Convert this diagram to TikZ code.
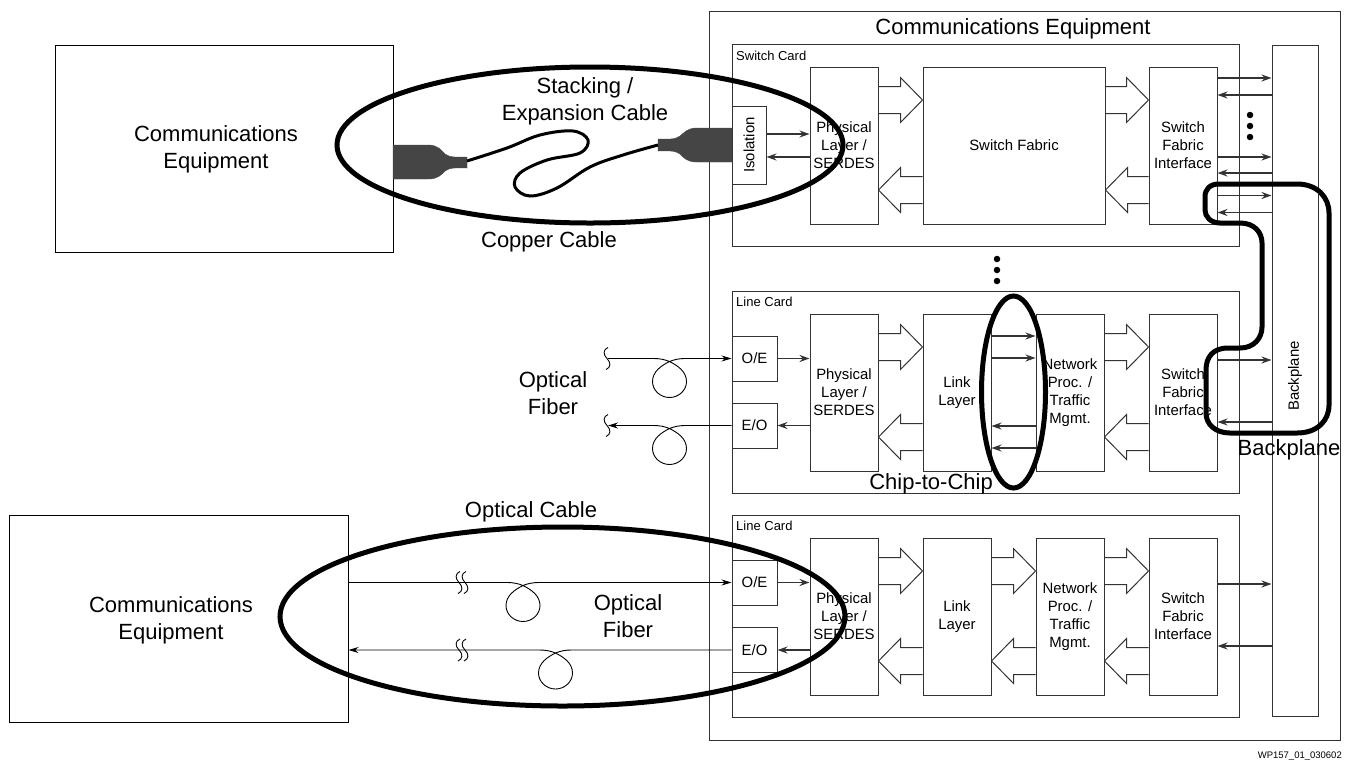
\documentclass[tikz,border=0pt]{standalone}
\usepackage{fontspec}
\setmainfont{Liberation Sans}
\usetikzlibrary{arrows.meta,calc,shapes.geometric}
\definecolor{ink}{HTML}{333333}
\definecolor{plug}{HTML}{454545}
\tikzset{
  boxbase/.style={draw=ink,line width=1pt,inner sep=0pt,align=center,font=\fontsize{14.9}{18}\selectfont},
  blockbox/.style={boxbase,minimum width=68pt,minimum height=157pt},
  smallbox/.style={boxbase,minimum width=45pt,minimum height=45pt},
  cardbox/.style={draw=ink,line width=1pt,inner sep=0pt,minimum width=507pt,minimum height=202pt},
  bigbox/.style={draw=black,line width=1pt,inner sep=0pt,minimum height=207pt},
  biglabel/.style={inner sep=0pt,align=center,font=\fontsize{22}{27}\selectfont},
  cardlabel/.style={inner sep=0pt,anchor=west,font=\fontsize{13}{15}\selectfont},
  sig/.style={draw=ink,line width=1.7pt,-{Stealth[length=10pt,width=7pt]}},
  sigback/.style={draw=ink,line width=1.7pt,{Stealth[length=10pt,width=7pt]}-},
  fiber/.style={draw=black,line width=0.9pt},
  hollow/.style={draw=ink,line width=1pt},
  ring/.style={draw=black,line width=5pt,ellipse,inner sep=0pt},
  dotmark/.style={circle,fill=black,inner sep=0pt,minimum size=6.5pt},
}
% forward / backward hollow arrows between two blocks
\newcommand\rarrow[3]{\draw[hollow] (#1.east |- 0,#3-13.5) -- ($(#2.west |- 0,#3-13.5)+(-22,0)$) -- ($(#2.west |- 0,#3-22.5)+(-22,0)$) -- (#2.west |- 0,#3) -- ($(#2.west |- 0,#3+22.5)+(-22,0)$) -- ($(#2.west |- 0,#3+13.5)+(-22,0)$) -- (#1.east |- 0,#3+13.5);}
\newcommand\larrow[3]{\draw[hollow] (#2.west |- 0,#3-13.5) -- ($(#1.east |- 0,#3-13.5)+(22,0)$) -- ($(#1.east |- 0,#3-22.5)+(22,0)$) -- (#1.east |- 0,#3) -- ($(#1.east |- 0,#3+22.5)+(22,0)$) -- ($(#1.east |- 0,#3+13.5)+(22,0)$) -- (#2.west |- 0,#3+13.5);}
\newcommand\sigr[3]{\draw[sig] (#1.east |- 0,#3) -- (#2.west |- 0,#3);}
\newcommand\sigl[3]{\draw[sigback] (#1.east |- 0,#3) -- (#2.west |- 0,#3);}
% fibre with a loop: style, left end, loop centre x, line y, right end
\newcommand\fiberloop[5]{\draw[fiber,#1] (#2) -- (#3-17,#4) .. controls (#3-9,#4) and (#3-5,#4+1) .. (#3,#4+3) .. controls (#3+8,#4+7) and (#3+17,#4+13) .. (#3+17,#4+23) .. controls (#3+17,#4+32) and (#3+9,#4+39) .. (#3,#4+39) .. controls (#3-9,#4+39) and (#3-17,#4+32) .. (#3-17,#4+23) .. controls (#3-17,#4+13) and (#3-8,#4+7) .. (#3,#4+3) .. controls (#3+5,#4+1) and (#3+9,#4) .. (#3+17,#4) -- (#5);}
\newcommand\breakmark[2]{\draw[fiber] (#1+1,#2-11) .. controls (#1-4,#2-9) and (#1-4,#2-4) .. (#1,#2) .. controls (#1+4,#2+4) and (#1+4,#2+9) .. (#1-1,#2+11);}
\begin{document}
\begin{tikzpicture}[x=1pt,y=-1pt]
\useasboundingbox (0,0) rectangle (1348,761);
% enclosures
\node[bigbox,minimum width=338pt] (eqA) at (224,148.5) {};
\node[bigbox,minimum width=339pt] (eqB) at (178.5,619) {};
\node[biglabel] (eqAlab) at (216,149.5) {Communications\\Equipment};
\node[biglabel] (eqBlab) at (171,620.5) {Communications\\Equipment};
\node[draw=ink,line width=1pt,inner sep=0pt,minimum width=631pt,minimum height=729pt] (outer) at (1024.5,375.5) {};
\node[biglabel] (outerlab) at (1013,28.5) {Communications Equipment};
\node[cardbox] (cardS) at (985.5,145.5) {};
\node[cardbox] (cardL) at (985.5,392) {};
\node[cardbox] (cardM) at (985.5,616) {};
\node[cardlabel] (labS) at (736,56) {Switch Card};
\node[cardlabel] (labL) at (736,302) {Line Card};
\node[cardlabel] (labM) at (736,526) {Line Card};
\node[boxbase,minimum width=46pt,minimum height=671pt] (bp) at (1295,380.5) {};
\node[inner sep=0pt,rotate=90,font=\fontsize{14.9}{18}\selectfont] (bplab) at (1295,376) {Backplane};
% switch card
\node[boxbase,minimum width=34pt,minimum height=78pt] (iso) at (749,145) {};
\node[inner sep=0pt,rotate=90,font=\fontsize{14.9}{18}\selectfont] (isolab) at (749,145) {Isolation};
\node[blockbox] (physS) at (844,145.5) {Physical\\Layer /\\SERDES};
\node[boxbase,minimum width=182pt,minimum height=157pt] (fab) at (1014,145.5) {Switch Fabric};
\node[blockbox] (sfiS) at (1183,145.5) {Switch\\Fabric\\Interface};
% line card 1
\node[smallbox] (oeL) at (754.5,358.5) {O/E};
\node[smallbox] (eoL) at (754.5,425.5) {E/O};
\node[blockbox] (physL) at (844,392.5) {Physical\\Layer /\\SERDES};
\node[blockbox] (linkL) at (957,392.5) {Link\\Layer};
\node[blockbox] (netL) at (1070,392.5) {Network\\Proc. /\\Traffic\\Mgmt.};
\node[blockbox] (sfiL) at (1183,392.5) {Switch\\Fabric\\Interface};
% line card 2
\node[smallbox] (oeM) at (754.5,582.5) {O/E};
\node[smallbox] (eoM) at (754.5,650) {E/O};
\node[blockbox] (physM) at (844,616.5) {Physical\\Layer /\\SERDES};
\node[blockbox] (linkM) at (957,616.5) {Link\\Layer};
\node[blockbox] (netM) at (1070,616.5) {Network\\Proc. /\\Traffic\\Mgmt.};
\node[blockbox] (sfiM) at (1183,616.5) {Switch\\Fabric\\Interface};
% hollow arrows
\rarrow{physS}{fab}{100}\larrow{physS}{fab}{190}
\rarrow{fab}{sfiS}{100}\larrow{fab}{sfiS}{190}
\rarrow{physL}{linkL}{347}\larrow{physL}{linkL}{437}
\rarrow{netL}{sfiL}{347}\larrow{netL}{sfiL}{437}
\rarrow{physM}{linkM}{571}\larrow{physM}{linkM}{661}
\rarrow{linkM}{netM}{571}\larrow{linkM}{netM}{661}
\rarrow{netM}{sfiM}{571}\larrow{netM}{sfiM}{661}
% signal arrows
\sigr{iso}{physS}{134}\sigl{iso}{physS}{157}
\sigr{sfiS}{bp}{78}\sigr{sfiS}{bp}{157}\sigr{sfiS}{bp}{195.5}
\sigl{sfiS}{bp}{95}\sigl{sfiS}{bp}{173}\sigl{sfiS}{bp}{212.5}
\node[dotmark] (d1) at (1250,115) {};
\node[dotmark] (d2) at (1250,126) {};
\node[dotmark] (d3) at (1250,137) {};
\node[dotmark] (d4) at (997,259) {};
\node[dotmark] (d5) at (997,270) {};
\node[dotmark] (d6) at (997,281) {};
\sigr{oeL}{physL}{358.5}\sigl{eoL}{physL}{425.5}
\sigr{linkL}{netL}{336}\sigr{linkL}{netL}{358}
\sigl{linkL}{netL}{426}\sigl{linkL}{netL}{448}
\sigr{sfiL}{bp}{360}\sigl{sfiL}{bp}{422}
\sigr{oeM}{physM}{582.5}\sigl{eoM}{physM}{650}
\sigr{sfiM}{bp}{584}\sigl{sfiM}{bp}{646}
% fibres
\coordinate (fa) at (608,358.5);
\coordinate (fb) at (608,425.5);
\fiberloop{-{Stealth[length=10pt,width=6pt]}}{fa}{669.5}{358.5}{oeL.west}
\fiberloop{{Stealth[length=10pt,width=6pt]}-}{fb}{669.5}{425.5}{eoL.west}
\breakmark{607}{358.5}\breakmark{607}{425.5}
\fiberloop{-{Stealth[length=10pt,width=6pt]}}{eqB.east |- oeM.west}{523}{582.5}{oeM.west}
\fiberloop{{Stealth[length=10pt,width=6pt]}-}{eqB.east |- eoM.west}{555.5}{650}{eoM.west}
\breakmark{459}{582.5}\breakmark{465}{582.5}
\breakmark{459}{650}\breakmark{465}{650}
% cable
\draw[fill=plug,draw=plug] (393,145) -- (428,145) .. controls (438,145) and (441,150) .. (445,154) .. controls (450,158) and (458,157) .. (467,157) -- (467,168) .. controls (458,168) and (450,167) .. (445,171) .. controls (441,175) and (438,179) .. (428,179) -- (393,179) -- cycle;
\draw[fill=plug,draw=plug] (732,128) -- (697,128) .. controls (687,128) and (684,133) .. (680,136) .. controls (675,140) and (667,139) .. (658,139) -- (658,151) .. controls (667,151) and (675,150) .. (680,154) .. controls (684,158) and (687,162) .. (697,162) -- (732,162) -- cycle;
\draw[line width=3pt,black,smooth,tension=0.6] plot coordinates {(467,161) (507,148) (540,135) (573,131) (588,140) (580,153) (547,160) (520,173) (515,187) (530,196) (557,188) (590,167) (623,155) (658,145)};
% labels
\node[biglabel] (stack) at (585,101.5) {Stacking /\\Expansion Cable};
\node[biglabel] (copper) at (549,242) {Copper Cable};
\node[biglabel] (ofA) at (553,393) {Optical\\Fiber};
\node[biglabel] (ocab) at (531,512) {Optical Cable};
\node[biglabel] (ofB) at (628,616.5) {Optical\\Fiber};
\node[biglabel] (chip) at (931,484) {Chip-to-Chip};
\node[biglabel] (bpbig) at (1289,450) {Backplane};
\node[inner sep=0pt,anchor=east,font=\fontsize{9.5}{11}\selectfont] (wp) at (1342,756) {WP157\_01\_030602};
% rings
\node[ring,minimum width=506pt,minimum height=156pt] (ringA) at (590,145) {};
\node[ring,minimum width=565pt,minimum height=179pt] (ringB) at (562.5,616.5) {};
\node[ring,minimum width=64pt,minimum height=192pt] (ringC) at (1013.5,392) {};
\draw[black,line width=5pt] (1230,184) -- (1297,184) .. controls (1317,184) and (1329,197) .. (1329,213) -- (1329,405) .. controls (1329,421) and (1317,433) .. (1297,433) -- (1230,433) .. controls (1215,433) and (1206,424) .. (1206,413) -- (1206,370) .. controls (1206,357) and (1213,348) .. (1228,348) -- (1240,348) .. controls (1254,348) and (1262,338) .. (1262,327) -- (1262,243) .. controls (1262,232) and (1254,223) .. (1240,223) -- (1220,223) .. controls (1211,223) and (1205,217) .. (1205,210) -- (1205,197) .. controls (1205,189) and (1210,184) .. (1219,184) -- cycle;
\end{tikzpicture}
\end{document}
